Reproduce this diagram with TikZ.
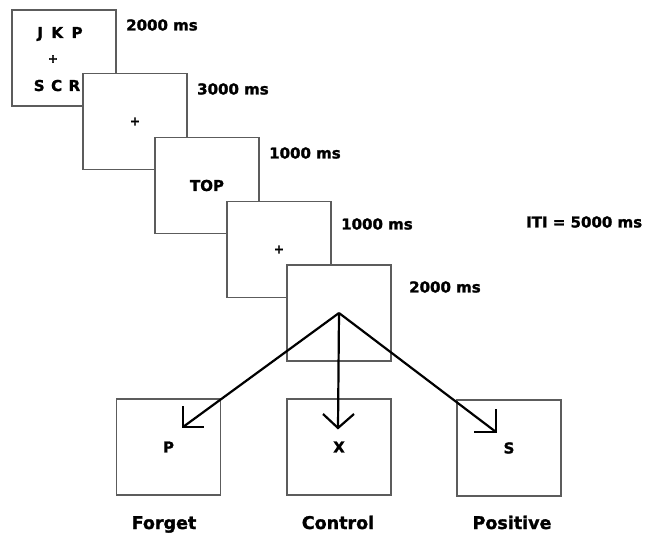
\documentclass[tikz,border=0pt]{standalone}
\usepackage{fontspec}
\setmainfont{DejaVu Sans}[BoldFeatures={FakeBold=1.5}]
\usetikzlibrary{calc}
\definecolor{framegray}{HTML}{5C5C5C}
\begin{document}
\begin{tikzpicture}[x=1pt,y=-1pt,
  frame/.style={draw=framegray,fill=white,line width=1.3pt,minimum width=104pt,minimum height=96pt,inner sep=0pt,font=\bfseries\fontsize{15}{15}\selectfont},
  fix/.style={inner sep=0pt,font=\bfseries\fontsize{12}{12}\selectfont},
  stim/.style={inner sep=0pt,font=\bfseries\fontsize{15}{15}\selectfont},
  dur/.style={inner sep=0pt,anchor=west,font=\bfseries\fontsize{15}{15}\selectfont},
  cond/.style={inner sep=0pt,anchor=base,font=\bfseries\fontsize{17.5}{17.5}\selectfont},
  arrowline/.style={line width=2.2pt,black,line cap=butt},
  barb/.style={line width=2.2pt,black,line join=miter}]
\useasboundingbox (0,0) rectangle (646,535);

% trial sequence: cascading screens
\node[frame] (s1) at (64,58) {};
\node[stim,anchor=base] (s1top) at (60,38) {J\hspace{8.5pt}K\hspace{8.5pt}P};
\node[fix] (s1fix) at (53,59) {+};
\node[stim,anchor=base] (s1bot) at (57,91) {S\hspace{6.5pt}C\hspace{6.5pt}R};
\node[frame] (s2) at (135,121.5) {};
\node[fix] (s2fix) at (s2.center) {+};
\node[frame] (s3) at (207,185.5) {TOP};
\node[frame] (s4) at (279,249.5) {};
\node[fix] (s4fix) at (s4.center) {+};
\node[frame] (s5) at (339,313) {};

% durations
\node[dur] (d1) at (126,25) {2000 ms};
\node[dur] (d2) at (197,89) {3000 ms};
\node[dur] (d3) at (269,153) {1000 ms};
\node[dur] (d4) at (341,224) {1000 ms};
\node[dur] (d5) at (409,287) {2000 ms};
\node[dur] (iti) at (526,222) {ITI = 5000 ms};

% probe screens
\node[frame] (pf) at (168.5,447) {P};
\node[frame] (pc) at (339,447) {X};
\node[frame] (pp) at (509,448) {S};

% condition labels
\node[cond] (lf) at (164,529) {Forget};
\node[cond] (lc) at (338,529) {Control};
\node[cond] (lp) at (512,529) {Positive};

% branching arrows
\coordinate (tipF) at (183,427);
\coordinate (tipC) at (338,428);
\coordinate (tipP) at (496,432);
\draw[arrowline] (s5.center) -- (tipF);
\draw[arrowline] (s5.center) -- (tipC);
\draw[arrowline] (s5.center) -- (tipP);
\draw[barb] ($(tipF)+(0,-21)$) -- (tipF) -- ($(tipF)+(21,0)$);
\draw[barb] ($(tipC)+(-15,-14)$) -- (tipC) -- ($(tipC)+(16,-14)$);
\draw[barb] ($(tipP)+(0,-23)$) -- (tipP) -- ($(tipP)+(-22,0)$);
\end{tikzpicture}
\end{document}
